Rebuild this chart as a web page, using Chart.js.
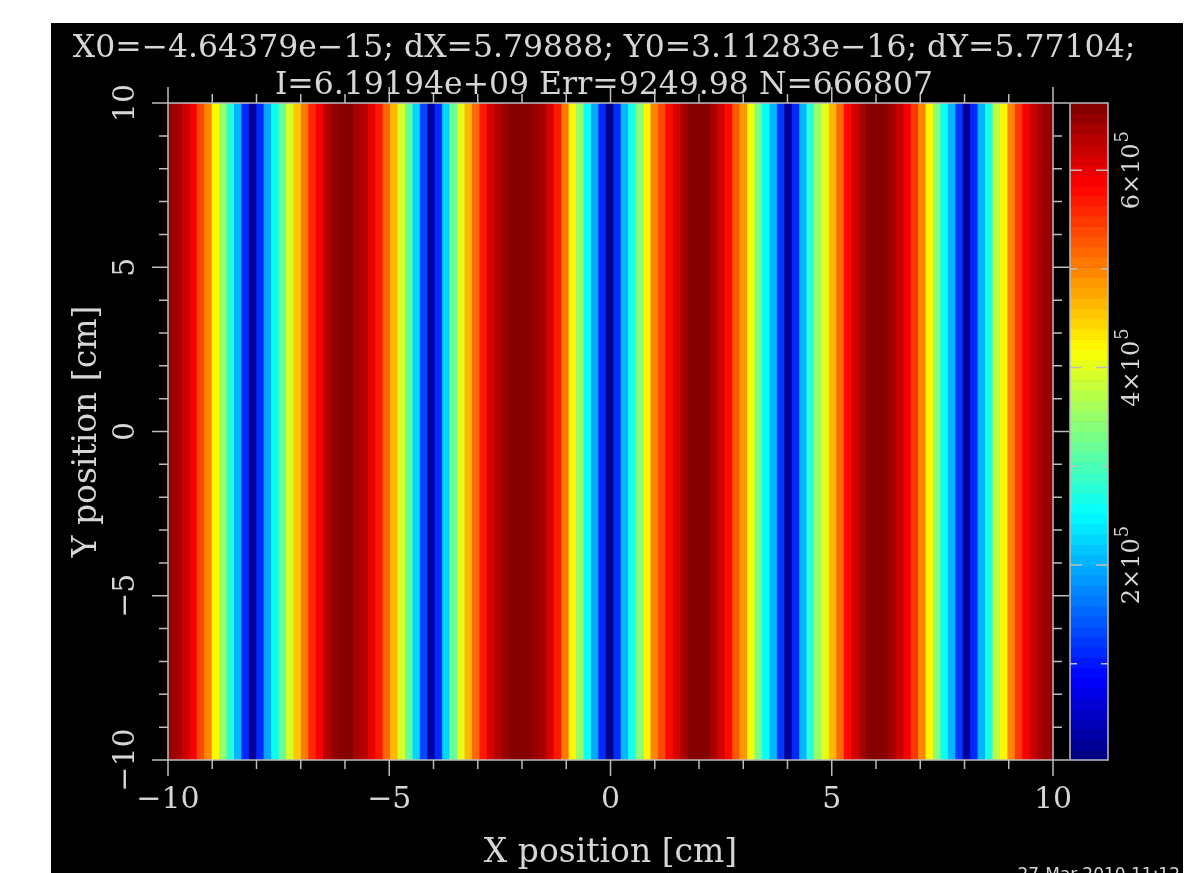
<!DOCTYPE html>
<html>
<head>
<meta charset="utf-8">
<title>Monitor x/y</title>
<script src="https://cdn.jsdelivr.net/npm/chart.js@4.4.1/dist/chart.umd.min.js"></script>
<style>
  html, body { margin: 0; padding: 0; background: #fff; }
  #panel { position: absolute; left: 51px; top: 23px; width: 1132px; height: 850px; background: #000; overflow: hidden; }
  #panel canvas { position: absolute; top: 0; }
  #plot { left: 0; }
  #scale { left: 1002px; }
</style>
</head>
<body>
<div id="panel">
  <canvas id="plot" width="1132" height="850"></canvas>
  <canvas id="scale" width="130" height="850"></canvas>
</div>
<script>
// monitor header
var titleLines = [
  'X0=−4.64379e−15; dX=5.79888; Y0=3.11283e−16; dY=5.77104;',
  'I=6.19194e+09 Err=9249.98 N=666807'
];
var xRange = [-10, 10];
var yRange = [-10, 10];
var axisTickValues = [-10, -5, 0, 5, 10];
var axisTickLabels = ['−10', '−5', '0', '5', '10'];
var colorRange = [2500, 668000];
var colorTickValues = [200000, 400000, 600000];
var colorTickMantissa = ['2×10', '4×10', '6×10'];
var colorTickExponent = ['5', '5', '5'];

// counts per x bin (119 bins), the map is flat along y
var columnCounts = [
  655000, 641000, 621000, 588000, 542000, 495000, 421000, 348000, 275000, 202000,
  116000, 22000, 109000, 196000, 262000, 322000, 388000, 455000, 508000, 555000,
  595000, 628000, 648000, 661000, 660000, 647000, 627000, 601000, 568000, 521000,
  461000, 395000, 315000, 222000, 129000, 29000, 116000, 229000, 322000, 408000,
  468000, 515000, 568000, 608000, 635000, 648000, 661000, 668000, 662000, 654000,
  641000, 615000, 568000, 508000, 428000, 348000, 262000, 195000, 116000, 9000,
  109000, 202000, 268000, 342000, 421000, 495000, 542000, 581000, 615000, 641000,
  661000, 667000, 660000, 641000, 608000, 581000, 528000, 481000, 415000, 335000,
  262000, 202000, 122000, 22000, 115000, 202000, 282000, 348000, 402000, 468000,
  515000, 575000, 615000, 641000, 661000, 666000, 661000, 647000, 621000, 588000,
  548000, 501000, 421000, 342000, 262000, 202000, 122000, 22000, 115000, 209000,
  268000, 368000, 421000, 495000, 548000, 588000, 621000, 641000, 654000
];

var textColor = '#d6d6d6';
var lineColor = '#bdbdbd';
var serif = "'DejaVu Serif', serif";
var nLevels = 64;

Chart.defaults.font.family = serif;
Chart.defaults.color = textColor;

function jet(t) {
  function c(v) { return Math.round(255 * Math.max(0, Math.min(1, v))); }
  return 'rgb(' + c(Math.min(4 * t - 1.5, -4 * t + 4.5)) + ',' +
    c(Math.min(4 * t - 0.5, -4 * t + 3.5)) + ',' +
    c(Math.min(4 * t + 0.5, -4 * t + 2.5)) + ')';
}

function levelColor(v) {
  var k = Math.floor((v - colorRange[0]) / (colorRange[1] - colorRange[0]) * nLevels);
  k = Math.max(0, Math.min(nLevels - 1, k));
  return jet((k + 0.5) / nLevels);
}

function tickText(v) {
  var i = axisTickValues.indexOf(v);
  return i < 0 ? '' : axisTickLabels[i];
}

var nBins = columnCounts.length;
var binLabels = columnCounts.map(function (c, i) {
  return (xRange[0] + (i + 0.5) * (xRange[1] - xRange[0]) / nBins).toFixed(2);
});

var boxTicks = {
  id: 'boxTicks',
  afterDraw: function (chart) {
    var ctx = chart.ctx, a = chart.chartArea;
    var sx = chart.scales.xv, sy = chart.scales.y;
    ctx.save();
    ctx.strokeStyle = lineColor;
    ctx.lineWidth = 1.5;
    ctx.strokeRect(a.left, a.top, a.right - a.left, a.bottom - a.top);
    ctx.beginPath();
    var v, p, len;
    for (v = xRange[0]; v <= xRange[1]; v++) {
      len = v % 5 === 0 ? 16 : 9;
      p = sx.getPixelForValue(v);
      ctx.moveTo(p, a.bottom); ctx.lineTo(p, a.bottom + len);
      ctx.moveTo(p, a.top); ctx.lineTo(p, a.top - len);
    }
    for (v = yRange[0]; v <= yRange[1]; v++) {
      len = v % 5 === 0 ? 16 : 9;
      p = sy.getPixelForValue(v);
      ctx.moveTo(a.left, p); ctx.lineTo(a.left - len, p);
      ctx.moveTo(a.right, p); ctx.lineTo(a.right + len, p);
    }
    ctx.stroke();
    // plot stamp, cut by the page edge
    ctx.fillStyle = textColor;
    ctx.font = "17px 'DejaVu Sans'";
    ctx.textAlign = 'right';
    ctx.textBaseline = 'top';
    ctx.fillText('27-Mar-2010 11:12', 1129, 844);
    ctx.restore();
  }
};

new Chart(document.getElementById('plot'), {
  type: 'bar',
  data: {
    labels: binLabels,
    datasets: [{
      data: columnCounts.map(function () { return yRange.slice(); }),
      backgroundColor: columnCounts.map(levelColor),
      borderWidth: 0,
      inflateAmount: 1,
      barPercentage: 1,
      categoryPercentage: 1
    }]
  },
  options: {
    responsive: false,
    animation: false,
    devicePixelRatio: 1,
    layout: { padding: { left: 0, right: 26, top: 0, bottom: 0 } },
    plugins: {
      legend: { display: false },
      tooltip: { enabled: false },
      title: {
        display: true,
        text: titleLines,
        color: textColor,
        font: { family: serif, size: 31.5, weight: 'normal', lineHeight: 1.18 },
        padding: { top: 7.5, bottom: -1.8 }
      }
    },
    scales: {
      x: { type: 'category', display: false },
      xv: {
        type: 'linear',
        position: 'bottom',
        offset: false,
        min: xRange[0],
        max: xRange[1],
        grid: { display: false, drawTicks: false, offset: false },
        border: { display: false },
        ticks: { stepSize: 5, autoSkip: false, padding: 22, color: textColor, font: { size: 30 }, callback: tickText },
        title: { display: true, text: 'X position [cm]', color: textColor, font: { size: 33 }, padding: { top: 0, bottom: 0 } },
        afterFit: function (s) { s.height = 113; }
      },
      y: {
        type: 'linear',
        position: 'left',
        min: yRange[0],
        max: yRange[1],
        grid: { display: false, drawTicks: false },
        border: { display: false },
        ticks: { stepSize: 5, autoSkip: false, minRotation: 90, maxRotation: 90, crossAlign: 'center', padding: 10, color: textColor, font: { size: 30 }, callback: tickText },
        title: { display: true, text: 'Y position [cm]', color: textColor, font: { size: 33 }, padding: { top: 17, bottom: 0 } },
        afterFit: function (s) { s.width = 117; }
      },
      // room for the colour scale
      yr: {
        type: 'linear',
        position: 'right',
        min: yRange[0],
        max: yRange[1],
        grid: { display: false, drawTicks: false },
        border: { display: false },
        ticks: { display: false },
        afterFit: function (s) { s.width = 104; }
      }
    }
  },
  plugins: [boxTicks]
});

// colour scale
var colorBar = {
  id: 'colorBar',
  beforeDatasetsDraw: function (chart) {
    var ctx = chart.ctx, a = chart.chartArea, s = chart.scales.y;
    var step = (colorRange[1] - colorRange[0]) / nLevels;
    ctx.save();
    for (var k = 0; k < nLevels; k++) {
      var y0 = s.getPixelForValue(colorRange[0] + k * step);
      var y1 = s.getPixelForValue(colorRange[0] + (k + 1) * step);
      ctx.fillStyle = jet((k + 0.5) / nLevels);
      ctx.fillRect(a.left, y1, a.right - a.left, y0 - y1 + 0.6);
    }
    ctx.restore();
  },
  afterDraw: function (chart) {
    var ctx = chart.ctx, a = chart.chartArea, s = chart.scales.y;
    ctx.save();
    ctx.strokeStyle = lineColor;
    ctx.lineWidth = 1.5;
    ctx.strokeRect(a.left, a.top, a.right - a.left, a.bottom - a.top);
    ctx.beginPath();
    for (var v = 100000; v < colorRange[1]; v += 100000) {
      var len = colorTickValues.indexOf(v) < 0 ? 7 : 12;
      var p = s.getPixelForValue(v);
      ctx.moveTo(a.left, p); ctx.lineTo(a.left + len, p);
      ctx.moveTo(a.right, p); ctx.lineTo(a.right - len, p);
    }
    ctx.stroke();
    // labels read upwards, like the y axis
    ctx.fillStyle = textColor;
    ctx.textAlign = 'left';
    ctx.textBaseline = 'middle';
    var mainFont = '24px ' + serif, supFont = '18px ' + serif;
    colorTickValues.forEach(function (v, i) {
      ctx.font = mainFont;
      var wm = ctx.measureText(colorTickMantissa[i]).width;
      ctx.font = supFont;
      var ws = ctx.measureText(colorTickExponent[i]).width;
      var x0 = -(wm + ws + 1) / 2;
      ctx.save();
      ctx.translate(a.right + 25, s.getPixelForValue(v));
      ctx.rotate(-Math.PI / 2);
      ctx.font = mainFont;
      ctx.fillText(colorTickMantissa[i], x0, 0);
      ctx.font = supFont;
      ctx.fillText(colorTickExponent[i], x0 + wm + 1, -10);
      ctx.restore();
    });
    ctx.restore();
  }
};

new Chart(document.getElementById('scale'), {
  type: 'bar',
  data: { labels: [''], datasets: [] },
  options: {
    responsive: false,
    animation: false,
    devicePixelRatio: 1,
    layout: { padding: { left: 17, right: 0, top: 80, bottom: 113 } },
    plugins: { legend: { display: false }, tooltip: { enabled: false } },
    scales: {
      x: { type: 'category', display: false },
      y: {
        type: 'linear',
        position: 'right',
        min: colorRange[0],
        max: colorRange[1],
        grid: { display: false, drawTicks: false },
        border: { display: false },
        ticks: { display: false },
        afterFit: function (s) { s.width = 75; }
      }
    }
  },
  plugins: [colorBar]
});
</script>
</body>
</html>
